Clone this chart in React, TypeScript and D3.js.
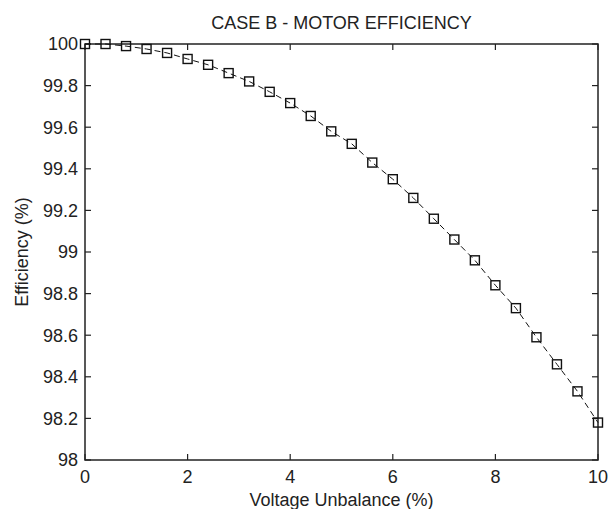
import React from "react";
import * as d3 from "d3";

const W = 608;
const H = 509;

const voltageUnbalance = [0, 0.4, 0.8, 1.2, 1.6, 2.0, 2.4, 2.8, 3.2, 3.6, 4.0, 4.4, 4.8, 5.2, 5.6, 6.0, 6.4, 6.8, 7.2, 7.6, 8.0, 8.4, 8.8, 9.2, 9.6, 10.0];
const efficiency = [100, 100, 99.99, 99.976, 99.957, 99.928, 99.9, 99.86, 99.82, 99.77, 99.716, 99.654, 99.58, 99.52, 99.43, 99.35, 99.26, 99.16, 99.06, 98.96, 98.84, 98.73, 98.59, 98.46, 98.33, 98.18];
const xTicks = [0, 2, 4, 6, 8, 10];
const yTicks = [98, 98.2, 98.4, 98.6, 98.8, 99, 99.2, 99.4, 99.6, 99.8, 100];

const title = "CASE B - MOTOR EFFICIENCY";
const xLabel = "Voltage Unbalance (%)";
const yLabel = "Efficiency (%)";

export default function App() {
  const left = 85, right = 598, top = 44, bottom = 460;
  const x = d3.scaleLinear().domain([0, 10]).range([left, right]);
  const y = d3.scaleLinear().domain([98, 100]).range([bottom, top]);
  const pts = voltageUnbalance.map((v, i) => [v, efficiency[i]] as [number, number]);
  const line = d3.line<[number, number]>().x(d => x(d[0])).y(d => y(d[1]));
  const font = "'Liberation Sans', Arial, sans-serif";
  const col = "#222";
  const tl = 6;
  const ms = 9;
  return (
    <svg width={W} height={H} style={{ position: "absolute", left: 0, top: 0, background: "#fff" }} fontFamily={font}>
      <rect x={0} y={0} width={W} height={H} fill="#fff" />
      {/* ticks */}
      {xTicks.map(t => (
        <g key={"xt" + t}>
          <line x1={x(t)} x2={x(t)} y1={bottom} y2={bottom - tl} stroke={col} strokeWidth={1.2} />
          <line x1={x(t)} x2={x(t)} y1={top} y2={top + tl} stroke={col} strokeWidth={1.2} />
          <text x={x(t)} y={483} textAnchor="middle" fontSize={18} fill={col}>{d3.format("~g")(t)}</text>
        </g>
      ))}
      {yTicks.map(t => (
        <g key={"yt" + t}>
          <line x1={left} x2={left + tl} y1={y(t)} y2={y(t)} stroke={col} strokeWidth={1.2} />
          <line x1={right} x2={right - tl} y1={y(t)} y2={y(t)} stroke={col} strokeWidth={1.2} />
          <text x={78} y={y(t)} dy="0.35em" textAnchor="end" fontSize={18} fill={col}>{d3.format("~g")(+t.toFixed(1))}</text>
        </g>
      ))}
      <rect x={left} y={top} width={right - left} height={bottom - top} fill="none" stroke={col} strokeWidth={1.5} />
      <path d={line(pts) || ""} fill="none" stroke="#111" strokeWidth={1} strokeDasharray="6,4" />
      {pts.map((p, i) => (
        <rect key={"m" + i} x={x(p[0]) - ms / 2} y={y(p[1]) - ms / 2} width={ms} height={ms} fill="none" stroke="#111" strokeWidth={1.4} />
      ))}
      <text x={(left + right) / 2} y={29} textAnchor="middle" fontSize={18} fill={col}>{title}</text>
      <text x={(left + right) / 2} y={506} textAnchor="middle" fontSize={18} fill={col}>{xLabel}</text>
      <text transform={`translate(28,${(top + bottom) / 2}) rotate(-90)`} textAnchor="middle" fontSize={18} fill={col}>{yLabel}</text>
    </svg>
  );
}
